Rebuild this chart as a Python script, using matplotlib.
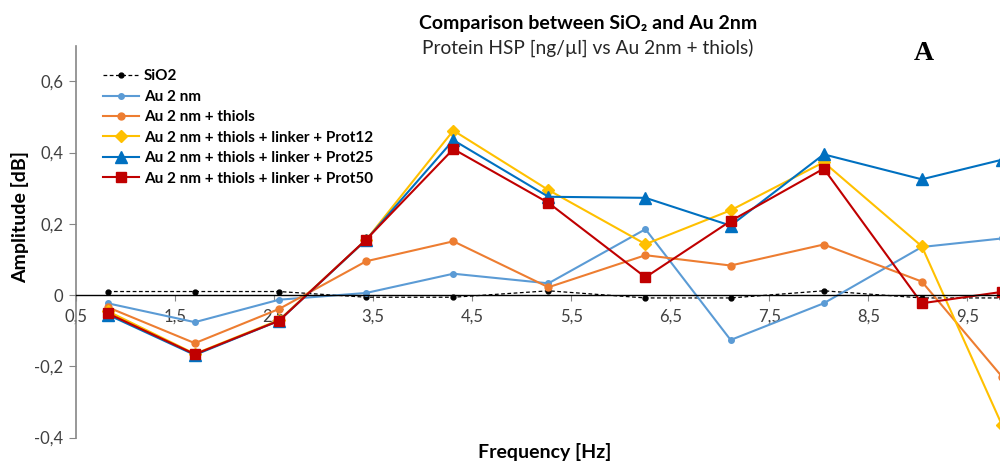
#!/usr/bin/env python
"""Amplitude vs frequency comparison: SiO2 and Au 2nm with thiols/linker/protein layers."""
import matplotlib

matplotlib.use("Agg")
import matplotlib.pyplot as plt
from matplotlib.ticker import FuncFormatter

plt.rcParams["font.family"] = ["Lato", "DejaVu Sans"]

# frequency points [Hz]
freq = [0.82, 1.70, 2.55, 3.43, 4.31, 5.27, 6.25, 7.11, 8.05, 9.04, 9.85]

sio2 = [0.010, 0.010, 0.010, -0.006, -0.006, 0.012, -0.008, -0.008, 0.012, -0.008, -0.008]
au2nm = [-0.023, -0.076, -0.013, 0.006, 0.060, 0.033, 0.185, -0.126, -0.023, 0.135, 0.159]
au_thiols = [-0.034, -0.135, -0.039, 0.095, 0.151, 0.022, 0.112, 0.083, 0.142, 0.038, -0.229]
prot12 = [-0.045, -0.165, -0.070, 0.155, 0.462, 0.295, 0.143, 0.238, 0.373, 0.137, -0.365]
prot25 = [-0.055, -0.168, -0.072, 0.155, 0.435, 0.276, 0.273, 0.195, 0.395, 0.325, 0.380]
prot50 = [-0.051, -0.166, -0.072, 0.156, 0.410, 0.259, 0.050, 0.208, 0.355, -0.023, 0.009]

series = [
    ("SiO2", sio2, "black", "o", 3.5, 0.9, (0, (3, 2))),
    ("Au 2 nm", au2nm, "#5B9BD5", "o", 4, 1.5, "-"),
    ("Au 2 nm + thiols", au_thiols, "#ED7D31", "o", 5, 1.5, "-"),
    ("Au 2 nm + thiols + linker + Prot12", prot12, "#FFC000", "D", 6.5, 1.5, "-"),
    ("Au 2 nm + thiols + linker + Prot25", prot25, "#0070C0", "^", 8, 1.5, "-"),
    ("Au 2 nm + thiols + linker + Prot50", prot50, "#C00000", "s", 7.5, 1.5, "-"),
]

x_ticks = [0.5, 1.5, 2.5, 3.5, 4.5, 5.5, 6.5, 7.5, 8.5, 9.5]
y_ticks = [-0.4, -0.2, 0.0, 0.2, 0.4, 0.6]


def comma_fmt(v, _pos):
    if abs(v) < 1e-9:
        return "0"
    return f"{v:.1f}".replace(".", ",")


fig = plt.figure(figsize=(10, 4.61), dpi=100)
ax = fig.add_axes([0.076, 0.0508, 0.927, 0.850])

for name, vals, color, marker, ms, lw, ls in series:
    ax.plot(freq, vals, color=color, marker=marker, markersize=ms, linewidth=lw,
            linestyle=ls, label=name)

ax.set_xlim(0.5, 9.86)
ax.set_ylim(-0.4, 0.7)
ax.set_xticks(x_ticks)
ax.set_yticks(y_ticks)
ax.xaxis.set_major_formatter(FuncFormatter(comma_fmt))
ax.yaxis.set_major_formatter(FuncFormatter(comma_fmt))

ax.spines["top"].set_visible(False)
ax.spines["right"].set_visible(False)
ax.spines["left"].set_color("#868686")
ax.spines["left"].set_linewidth(1.2)
ax.spines["bottom"].set_position(("data", 0))
ax.spines["bottom"].set_color("black")
ax.spines["bottom"].set_linewidth(1.0)

ax.tick_params(axis="y", direction="out", length=5, color="#868686", labelsize=12,
               labelcolor="#404040", pad=4)
ax.tick_params(axis="x", direction="out", length=4, color="#868686", labelsize=12,
               labelcolor="#404040", pad=6)

ax.legend(loc="upper left", bbox_to_anchor=(0.022, 0.955), frameon=False,
          handlelength=2.4, handletextpad=0.3, labelspacing=0.42,
          borderaxespad=0.0, prop={"weight": "bold", "size": 11})

fig.text(0.02, 0.53, "Amplitude [dB]", rotation=90, ha="center", va="center",
         fontsize=14, fontweight="bold", color="black")
fig.text(0.545, 0.02, "Frequency [Hz]", ha="center", va="center",
         fontsize=14, fontweight="bold", color="black")

fig.text(0.588, 0.948, "Comparison between SiO₂ and Au 2nm", ha="center", va="center",
         fontsize=14, fontweight="bold", color="black")
fig.text(0.588, 0.897, "Protein HSP [ng/µl] vs Au 2nm + thiols)", ha="center", va="center",
         fontsize=13.8, color="#262626")
fig.text(0.924, 0.885, "A", ha="center", va="center", fontsize=20, fontweight="bold",
         family="Liberation Serif")

fig.savefig("out.png", dpi=100)
